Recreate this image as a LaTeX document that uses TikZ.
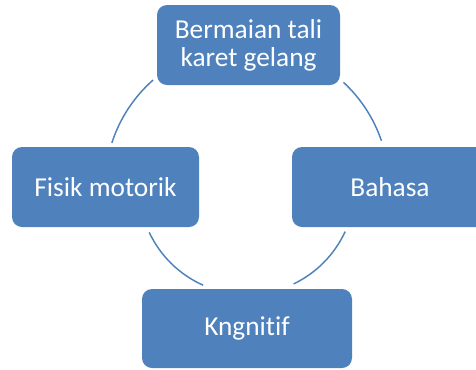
\documentclass[tikz,border=0pt]{standalone}
\usepackage{fontspec}
\setmainfont[Ligatures=NoCommon]{Carlito}
\usepackage{tikz}
\definecolor{boxblue}{RGB}{79, 129, 189}

\begin{document}
\begin{tikzpicture}[x=0.75pt, y=-0.75pt,
    kotak/.style={draw=none, fill=boxblue, rounded corners=7.5pt, text=white,
                  font=\fontsize{20.5}{21}\selectfont, align=center,
                  minimum height=60pt, inner sep=0pt},
    lengkung/.style={draw=boxblue, line width=1.1pt}]
    \useasboundingbox (0,0) rectangle (476,369);
    \clip (0,0) rectangle (476,369);

    % pusat lingkaran
    \coordinate (pusat) at (247,186.5);

    % kotak-kotak
    \node[kotak, minimum width=137.25pt] (tali) at (248.5,45) {Bermaian tali\\karet gelang};
    \node[kotak, minimum width=140.25pt] (fisik) at (105.5,187) {Fisik motorik};
    \node[kotak, minimum width=147pt] (bahasa) at (390,187) {Bahasa};
    \node[kotak, minimum width=157.5pt, minimum height=59.25pt] (kognitif) at (247,328.5) {Kngnitif};

    % lengkung penghubung
    \draw[lengkung] (pusat) ++(131.4:106.5pt) arc (131.4:162.1:106.5pt);
    \draw[lengkung] (pusat) ++(47.2:106.5pt) arc (47.2:18.8:106.5pt);
    \draw[lengkung] (pusat) ++(205.1:81pt) arc (205.1:246:81pt);
    \draw[lengkung] (pusat) ++(295.6:81pt) arc (295.6:335.3:81pt);
\end{tikzpicture}
\end{document}
